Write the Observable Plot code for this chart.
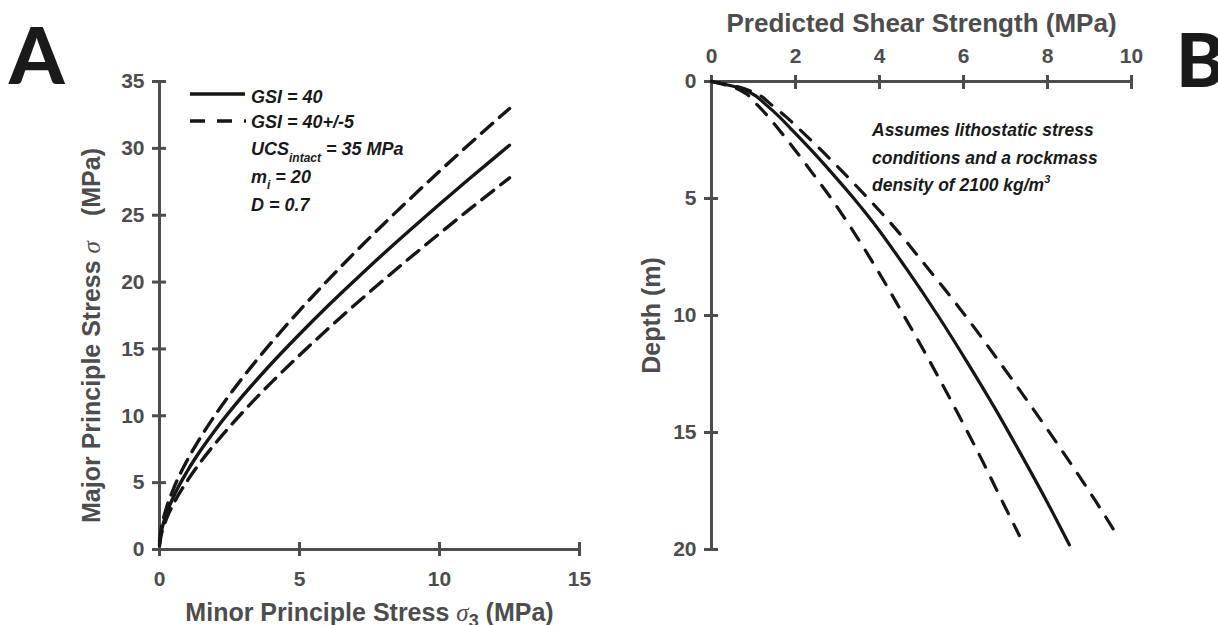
<!DOCTYPE html>
<html>
<head>
<meta charset="utf-8">
<script src="https://cdn.jsdelivr.net/npm/d3@7"></script>
<script src="https://cdn.jsdelivr.net/npm/@observablehq/plot@0.6"></script>
<style>
  html, body { margin: 0; padding: 0; background: #fff; }
  #wrap { position: relative; width: 1218px; height: 625px; overflow: hidden; }
  #panelA, #panelB, #overlay { position: absolute; top: 0; }
  #panelA { left: 0; }
  #panelB { left: 600px; }
  #overlay { left: 0; pointer-events: none; }
  .cond { font-family: "Liberation Sans", Arial, sans-serif; font-weight: bold; font-style: italic; fill: #1a1a1a; }
</style>
</head>
<body>
<div id="wrap">
  <div id="panelA"></div>
  <div id="panelB"></div>
  <svg id="overlay" width="1218" height="625"></svg>
</div>
<script>
// ---------- Panel A: Hoek-Brown failure envelopes ----------
const sigma3 = [0, 0.05, 0.1, 0.25, 0.5, 1, 1.5, 2, 3, 4, 5, 6, 7, 8, 9, 10, 11, 12, 12.5];
const sigma1Gsi40 = [0.41, 1.19, 1.66, 2.69, 3.95, 5.89, 7.51, 8.96, 11.56, 13.91, 16.10, 18.19, 20.18, 22.12, 23.99, 25.82, 27.61, 29.36, 30.23];
const sigma1Gsi45 = [0.61, 1.44, 1.97, 3.12, 4.54, 6.71, 8.50, 10.09, 12.93, 15.49, 17.87, 20.11, 22.26, 24.33, 26.33, 28.29, 30.19, 32.06, 32.98];
const sigma1Gsi35 = [0.27, 0.98, 1.40, 2.30, 3.42, 5.16, 6.63, 7.95, 10.33, 12.50, 14.53, 16.47, 18.34, 20.15, 21.91, 23.63, 25.32, 26.97, 27.79];
const xTicksA = [0, 5, 10, 15];
const yTicksA = [0, 5, 10, 15, 20, 25, 30, 35];

// ---------- Panel B: predicted shear strength with depth ----------
const depthSolid = [0, 0.25, 0.5, 1, 1.5, 2, 3, 4, 5, 6, 8, 10, 12, 14, 16, 18, 19.8];
const shearGsi40 = [0, 0.62, 0.95, 1.30, 1.61, 1.88, 2.41, 2.91, 3.39, 3.84, 4.64, 5.39, 6.09, 6.76, 7.39, 8.00, 8.52];
const depthDashed = [0, 0.25, 0.5, 1, 1.5, 2, 3, 4, 5, 6, 8, 10, 12, 14, 16, 18, 19.4];
const shearGsi35 = [0, 0.52, 0.80, 1.09, 1.35, 1.58, 2.02, 2.44, 2.85, 3.23, 3.93, 4.58, 5.21, 5.81, 6.39, 6.94, 7.33];
const shearGsi45 = [0, 0.68, 1.05, 1.43, 1.77, 2.07, 2.65, 3.20, 3.73, 4.24, 5.16, 6.04, 6.86, 7.66, 8.43, 9.17, 9.66];
const xTicksB = [0, 2, 4, 6, 8, 10];
const yTicksB = [0, 5, 10, 15, 20];

const axisColor = "#4d4d4d";
const lineColor = "#161616";
const baseStyle = {
  fontFamily: "'Liberation Sans', Arial, sans-serif",
  fontSize: "21px",
  fontWeight: "bold",
  color: axisColor,
  background: "transparent",
  overflow: "visible"
};

const toRows = (xs, ys, kx, ky) => xs.map((v, i) => ({[kx]: v, [ky]: ys[i]}));

const plotA = Plot.plot({
  width: 600, height: 625,
  marginLeft: 159, marginRight: 21, marginTop: 81, marginBottom: 76,
  style: baseStyle,
  x: {domain: [0, 15]},
  y: {domain: [0, 35]},
  marks: [
    Plot.ruleX([0], {stroke: axisColor, strokeWidth: 3}),
    Plot.ruleY([0], {stroke: axisColor, strokeWidth: 3}),
    Plot.axisX({anchor: "bottom", ticks: xTicksA, tickSize: 14, dy: -7, tickPadding: 15, strokeWidth: 3, fontSize: 21,
      label: "Minor Principle Stress σ3 (MPa)", labelAnchor: "center", labelOffset: 71, labelArrow: "none"}),
    Plot.axisY({anchor: "left", ticks: yTicksA, tickSize: 14, dx: 7, tickPadding: 8, strokeWidth: 3, fontSize: 21,
      label: "Major Principle Stress σ (MPa)", labelAnchor: "center", labelOffset: 77, labelArrow: "none"}),
    Plot.line(toRows(sigma3, sigma1Gsi45, "s3", "s1"), {x: "s3", y: "s1", stroke: lineColor, strokeWidth: 3.4, strokeDasharray: "15,9", curve: "monotone-x"}),
    Plot.line(toRows(sigma3, sigma1Gsi35, "s3", "s1"), {x: "s3", y: "s1", stroke: lineColor, strokeWidth: 3.4, strokeDasharray: "15,9", curve: "monotone-x"}),
    Plot.line(toRows(sigma3, sigma1Gsi40, "s3", "s1"), {x: "s3", y: "s1", stroke: lineColor, strokeWidth: 3.4, curve: "monotone-x"})
  ]
});
document.getElementById("panelA").append(plotA);

const plotB = Plot.plot({
  width: 618, height: 625,
  marginLeft: 111, marginRight: 87, marginTop: 81, marginBottom: 76,
  style: baseStyle,
  x: {domain: [0, 10]},
  y: {domain: [0, 20], reverse: true},
  marks: [
    Plot.ruleX([0], {stroke: axisColor, strokeWidth: 3}),
    Plot.ruleY([0], {stroke: axisColor, strokeWidth: 3}),
    Plot.axisX({anchor: "top", ticks: xTicksB, tickSize: 14, dy: 7, tickPadding: 12, strokeWidth: 3, fontSize: 21,
      label: "Predicted Shear Strength (MPa)", labelAnchor: "center", labelOffset: 68, labelArrow: "none"}),
    Plot.axisY({anchor: "left", ticks: yTicksB, tickSize: 14, dx: 7, tickPadding: 8, strokeWidth: 3, fontSize: 21,
      label: "Depth (m)", labelAnchor: "center", labelOffset: 69, labelArrow: "none"}),
    Plot.line(toRows(depthDashed, shearGsi35, "d", "t"), {x: "t", y: "d", stroke: lineColor, strokeWidth: 3.2, strokeDasharray: "14,12", curve: "monotone-y"}),
    Plot.line(toRows(depthDashed, shearGsi45, "d", "t"), {x: "t", y: "d", stroke: lineColor, strokeWidth: 3.2, strokeDasharray: "14,12", curve: "monotone-y"}),
    Plot.line(toRows(depthSolid, shearGsi40, "d", "t"), {x: "t", y: "d", stroke: lineColor, strokeWidth: 3.2, curve: "monotone-y"})
  ]
});
document.getElementById("panelB").append(plotB);

// Axis-title styling (size, italic sigma, subscript)
d3.selectAll("#panelA g[aria-label$='axis label'] text, #panelB g[aria-label$='axis label'] text").attr("font-size", 25);
d3.select("#panelB g[aria-label='x-axis label'] text").attr("font-size", 26);
const xlabA = d3.select("#panelA g[aria-label='x-axis label'] text");
xlabA.text(null);
xlabA.append("tspan").text("Minor Principle Stress ");
xlabA.append("tspan").attr("font-family", "'Liberation Serif', serif").attr("font-style", "italic").attr("font-weight", "normal").text("σ");
xlabA.append("tspan").attr("font-size", 18).attr("dy", 6).text("3");
xlabA.append("tspan").attr("dy", -6).text(" (MPa)");
const ylabA = d3.select("#panelA g[aria-label='y-axis label'] text");
ylabA.text(null).attr("dx", -20);
ylabA.append("tspan").text("Major Principle Stress ");
ylabA.append("tspan").attr("font-family", "'Liberation Serif', serif").attr("font-style", "italic").attr("font-weight", "normal").text("σ");
ylabA.append("tspan").text("\u2002\u2002(MPa)");

// ---------- Overlay: panel letters, legend, note ----------
const ov = d3.select("#overlay");
ov.append("text").attr("x", 9).attr("y", 84).attr("font-family", "Lato, 'DejaVu Sans', sans-serif").attr("font-weight", 900).attr("font-size", 79).attr("fill", "#1a1a1a").text("A");
ov.append("text").attr("x", 1176).attr("y", 87).attr("font-family", "Lato, 'DejaVu Sans', sans-serif").attr("font-weight", 900).attr("font-size", 74).attr("fill", "#1a1a1a").text("B");

ov.append("line").attr("x1", 190).attr("x2", 245).attr("y1", 94).attr("y2", 94).attr("stroke", lineColor).attr("stroke-width", 3.4);
ov.append("line").attr("x1", 190).attr("x2", 246).attr("y1", 121).attr("y2", 121).attr("stroke", lineColor).attr("stroke-width", 3.4).attr("stroke-dasharray", "15,12");

const leg = (y) => ov.append("text").attr("class", "cond").attr("x", 251).attr("y", y).attr("font-size", 18);
leg(103).text("GSI = 40");
leg(128).text("GSI = 40+/-5");
const ucs = leg(155);
ucs.append("tspan").text("UCS");
ucs.append("tspan").attr("font-size", 12).attr("dy", 7).text("intact");
ucs.append("tspan").attr("dy", -7).text(" = 35 MPa");
const mi = leg(183);
mi.append("tspan").text("m");
mi.append("tspan").attr("font-size", 12).attr("dy", 6).text("i");
mi.append("tspan").attr("dy", -6).text(" = 20");
leg(211).text("D = 0.7");

const note = (y) => ov.append("text").attr("class", "cond").attr("x", 872).attr("y", y).attr("font-size", 17.5);
note(136).text("Assumes lithostatic stress");
note(164).text("conditions and a rockmass");
const n3 = note(191);
n3.append("tspan").text("density of 2100 kg/m");
n3.append("tspan").attr("font-size", 11).attr("dy", -8).text("3");
</script>
</body>
</html>
